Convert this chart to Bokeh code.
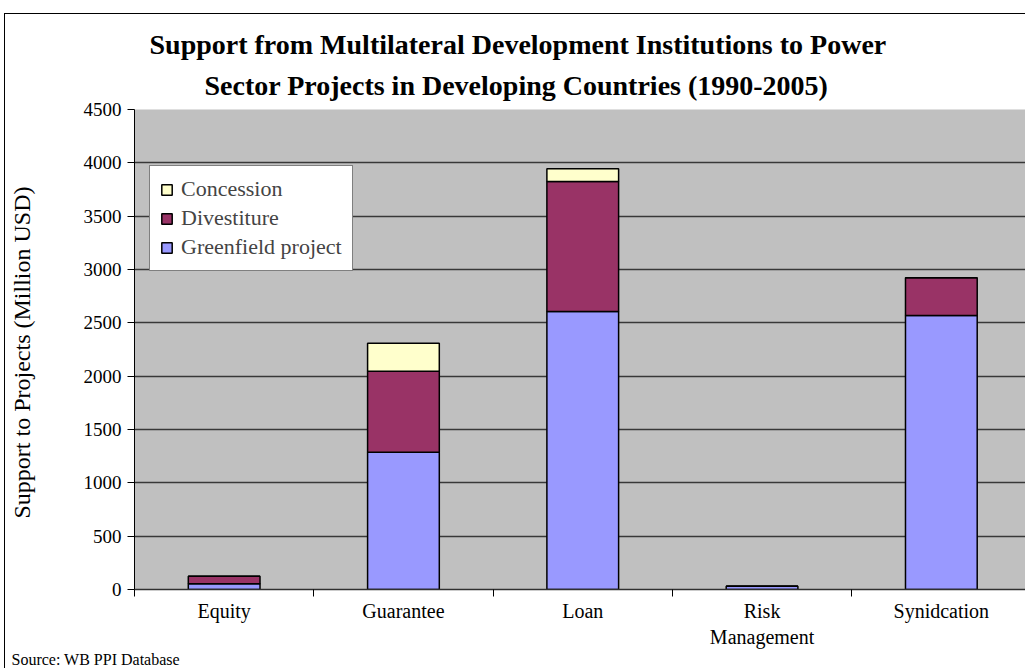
from bokeh.plotting import figure
from bokeh.models import ColumnDataSource, FixedTicker, Legend, LegendItem, Range1d, Title
from bokeh.embed import file_html
from bokeh.resources import INLINE

# ---- data ----
categories = ["Equity", "Guarantee", "Loan", "Risk\nManagement", "Synidcation"]
greenfield = [53, 1287, 2606, 30, 2569]
divestiture = [72, 760, 1219, 0, 353]
concession = [0, 262, 119, 0, 0]
series_names = ["Greenfield project", "Divestiture", "Concession"]
series_colors = ["#9999FF", "#993366", "#FFFFCC"]
y_ticks = [0, 500, 1000, 1500, 2000, 2500, 3000, 3500, 4000, 4500]

FONT = "Liberation Serif"
xs = list(range(1, len(categories) + 1))

src = ColumnDataSource(dict(x=xs, g=greenfield, d=divestiture, c=concession))

W, H = 1021, 655
p = figure(width=W, height=H, output_backend="svg", toolbar_location=None,
           x_range=Range1d(0.5, 0.5 + 893 / 179.5), y_range=Range1d(0, 4500),
           min_border_left=128, min_border_right=0, min_border_top=95,
           min_border_bottom=80)
p.background_fill_color = "#C0C0C0"
p.border_fill_color = "white"
p.outline_line_color = None
p.styles = {"border-left": "1px solid black", "border-top": "1px solid black",
            "margin-left": "4px", "margin-top": "13px"}

rs = p.vbar_stack(["g", "d", "c"], x="x", width=0.4, source=src,
                  fill_color=series_colors, line_color="black", line_width=1.5)

# axes
p.xaxis.ticker = FixedTicker(ticks=xs, minor_ticks=[0.5, 1.5, 2.5, 3.5, 4.5, 5.5])
p.xaxis.major_label_overrides = {x: c for x, c in zip(xs, categories)}
p.xaxis.major_tick_out = 0
p.xaxis.major_tick_in = 0
p.xaxis.minor_tick_out = 7
p.xaxis.minor_tick_in = 0
p.xaxis.minor_tick_line_color = "black"
p.xaxis.axis_line_color = "#303030"
p.xaxis.axis_line_width = 1.5
p.xaxis.major_label_text_font = FONT
p.xaxis.major_label_text_font_size = "20px"
p.xaxis.major_label_text_color = "black"
p.xaxis.major_label_standoff = 3

p.yaxis.ticker = FixedTicker(ticks=y_ticks)
p.yaxis.major_tick_out = 7
p.yaxis.major_tick_in = 0
p.yaxis.minor_tick_line_color = None
p.yaxis.axis_line_color = "black"
p.yaxis.major_tick_line_color = "black"
p.yaxis.major_label_text_font = FONT
p.yaxis.major_label_text_font_size = "19px"
p.yaxis.major_label_text_color = "black"
p.yaxis.major_label_standoff = 6
p.yaxis.axis_label = "Support to  Projects (Million USD)"
p.yaxis.axis_label_text_font = FONT
p.yaxis.axis_label_text_font_size = "24px"
p.yaxis.axis_label_text_font_style = "normal"
p.yaxis.axis_label_text_color = "black"
p.yaxis.axis_label_standoff = 46

p.xgrid.grid_line_color = None
p.ygrid.ticker = FixedTicker(ticks=y_ticks)
p.ygrid.grid_line_color = "#383838"
p.ygrid.grid_line_width = 1.3

# legend
items = [LegendItem(label=series_names[i], renderers=[rs[i]]) for i in (2, 1, 0)]
legend = Legend(items=items, location=(15, 318), border_line_color="black",
                border_line_width=1.3, background_fill_color="white",
                background_fill_alpha=1.0,
                label_text_font=FONT, label_text_font_size="22px",
                glyph_width=13, glyph_height=13, label_height=20,
                spacing=3, padding=10, margin=0, label_standoff=8)
p.add_layout(legend, "center")

# titles (first added "above" sits nearest the frame)
p.add_layout(Title(text="Sector Projects in Developing Countries (1990-2005)",
                   text_font=FONT, text_font_size="28px", text_font_style="bold",
                   align="left", offset=70, standoff=17, text_color="black"), "above")
p.add_layout(Title(text="Support from Multilateral Development Institutions to Power",
                   text_font=FONT, text_font_size="28px", text_font_style="bold",
                   align="left", offset=15, standoff=0, text_color="black"), "above")

# source note
p.add_layout(Title(text="Source: WB PPI Database", text_font=FONT,
                   text_font_size="16px", text_font_style="normal",
                   align="left", offset=-123, standoff=0, vertical_align="top",
                   text_color="black"), "below")

open("out.html", "w").write(file_html(p, INLINE))
